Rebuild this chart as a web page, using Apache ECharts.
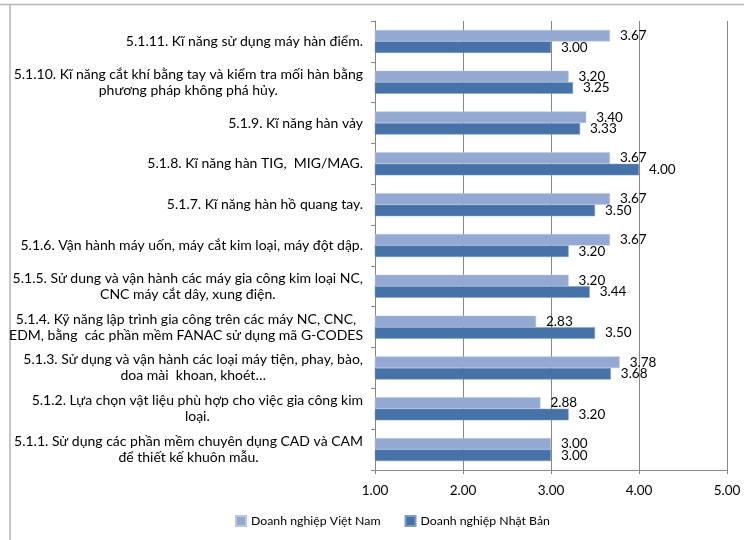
<!DOCTYPE html>
<html>
<head>
<meta charset="utf-8">
<script src="https://cdn.jsdelivr.net/npm/echarts@6/dist/echarts.min.js"></script>
<style>
  html, body { margin: 0; padding: 0; background: #fff; }
  #chart { width: 744px; height: 540px; }
</style>
</head>
<body>
<div id="chart"></div>
<script>
// Skill categories, listed top to bottom
const categories = [
  '5.1.11. Kĩ năng sử dụng máy hàn điểm.',
  '5.1.10. Kĩ năng cắt khí bằng tay và kiểm tra mối hàn bằng\nphương pháp không phá hủy.',
  '5.1.9. Kĩ năng hàn vảy',
  '5.1.8. Kĩ năng hàn TIG,  MIG/MAG.',
  '5.1.7. Kĩ năng hàn hồ quang tay.',
  '5.1.6. Vận hành máy uốn, máy cắt kim loại, máy đột dập.',
  '5.1.5. Sử dung và vận hành các máy gia công kim loại NC,\nCNC máy cắt dây, xung điện.',
  '5.1.4. Kỹ năng lập trình gia công trên các máy NC, CNC,\nEDM, bằng  các phần mềm FANAC sử dụng mã G-CODES',
  '5.1.3. Sử dụng và vận hành các loại máy tiện, phay, bào,\ndoa mài  khoan, khoét…',
  '5.1.2. Lựa chọn vật liệu phù hợp cho việc gia công kim\nloại.',
  '5.1.1. Sử dụng các phần mềm chuyên dụng CAD và CAM\nđể thiết kế khuôn mẫu.'
];

const seriesNames = ['Doanh nghiệp Việt Nam', 'Doanh nghiệp Nhật Bản'];

// Mean scores, same order as categories
const vietnamScores = [3.67, 3.20, 3.40, 3.67, 3.67, 3.67, 3.20, 2.83, 3.78, 2.88, 3.00];
const japanScores   = [3.00, 3.25, 3.33, 4.00, 3.50, 3.20, 3.44, 3.50, 3.68, 3.20, 3.00];

const axisMin = 1;
const axisMax = 5;
const axisStep = 1;

const FONT = 'Lato';
const GRID_GRAY = '#878787';

const chart = echarts.init(document.getElementById('chart'), null, { renderer: 'canvas' });

const barLabel = {
  show: true,
  position: 'right',
  distance: 10,
  color: '#000',
  fontFamily: FONT,
  fontSize: 13.5,
  formatter: p => p.value.toFixed(2)
};

chart.setOption({
  animation: false,
  backgroundColor: '#fff',
  textStyle: { fontFamily: FONT },
  graphic: [
    { type: 'line', shape: { x1: 0, y1: 4.5, x2: 744, y2: 4.5 }, style: { stroke: '#b5b5b5', lineWidth: 1.5 } },
    { type: 'line', shape: { x1: 10, y1: 4, x2: 10, y2: 540 }, style: { stroke: '#b5b5b5', lineWidth: 1.5 } }
  ],
  grid: { left: 375, right: 17, top: 21, bottom: 70, containLabel: false },
  legend: {
    data: seriesNames,
    bottom: 8,
    left: 230,
    icon: 'rect',
    itemWidth: 10,
    itemHeight: 10,
    itemGap: 24,
    textStyle: { fontFamily: FONT, fontSize: 12.3, color: '#000' }
  },
  xAxis: {
    type: 'value',
    min: axisMin,
    max: axisMax,
    interval: axisStep,
    axisLine: { show: true, lineStyle: { color: GRID_GRAY, width: 1 } },
    axisTick: { show: true, length: 4, lineStyle: { color: GRID_GRAY } },
    axisLabel: {
      color: '#000',
      fontFamily: FONT,
      fontSize: 13.5,
      margin: 14,
      formatter: v => v.toFixed(2)
    },
    splitLine: { show: true, lineStyle: { color: GRID_GRAY, width: 1 } }
  },
  yAxis: {
    type: 'category',
    inverse: true,
    data: categories,
    axisLine: { show: true, lineStyle: { color: GRID_GRAY, width: 1 } },
    axisTick: { show: true, length: 4, lineStyle: { color: GRID_GRAY } },
    axisLabel: {
      margin: 12,
      color: '#000',
      fontFamily: FONT,
      fontSize: 14,
      lineHeight: 16,
      formatter: v => v.split('\n').map(s => '{c|' + s + '}').join('\n'),
      rich: {
        c: { align: 'center', fontFamily: FONT, fontSize: 14, lineHeight: 16, color: '#000' }
      }
    },
    splitLine: { show: false }
  },
  series: [
    {
      name: seriesNames[0],
      type: 'bar',
      data: vietnamScores,
      barWidth: 11.5,
      barGap: '0%',
      itemStyle: { color: '#94A9D2', borderColor: '#b9c7e2', borderWidth: 0.5 },
      label: barLabel
    },
    {
      name: seriesNames[1],
      type: 'bar',
      data: japanScores,
      barWidth: 11.5,
      barGap: '0%',
      itemStyle: { color: '#4672A8', borderColor: '#7e9cc4', borderWidth: 0.5 },
      label: barLabel
    }
  ]
});
</script>
</body>
</html>
